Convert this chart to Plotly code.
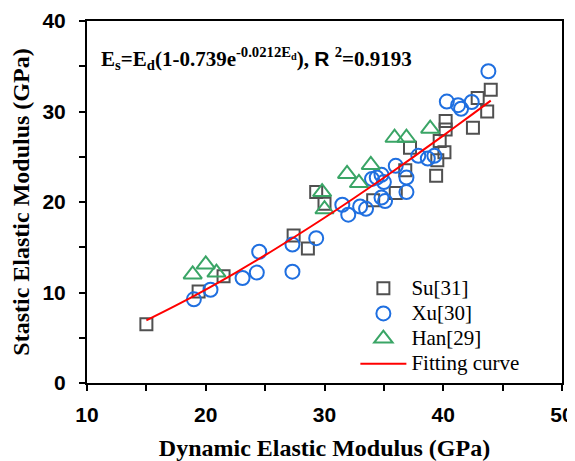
import plotly.graph_objects as go

# Su[31]
su_x = [15.0, 19.4, 21.5, 27.4, 28.6, 29.3, 30.0, 34.1, 36.0, 36.8, 37.2, 39.4, 39.5, 39.7, 40.1, 40.2, 40.2, 42.5, 42.9, 43.7, 44.0]
su_y = [6.5, 10.1, 11.8, 16.3, 14.85, 21.1, 19.8, 20.2, 21.0, 23.5, 26.0, 22.9, 24.6, 26.75, 25.5, 28.0, 28.95, 28.2, 31.5, 30.0, 32.4]

# Xu[30]
xu_x = [19.0, 20.4, 23.1, 24.3, 24.5, 27.3, 27.3, 29.3, 31.5, 32.0, 33.0, 33.5, 34.0, 34.4, 34.8, 35.0, 34.8, 35.1, 36.0, 36.9, 36.9, 37.9, 38.7, 39.25, 40.3, 41.25, 41.5, 42.4, 43.8]
xu_y = [9.25, 10.3, 11.6, 12.2, 14.5, 12.3, 15.3, 16.0, 19.7, 18.6, 19.5, 19.25, 22.55, 22.7, 23.0, 22.2, 20.5, 20.1, 24.0, 22.7, 21.1, 25.1, 24.8, 25.1, 31.1, 30.7, 30.3, 31.05, 34.45]

# Han[29]
han_x = [18.9, 20.0, 20.9, 29.8, 30.0, 31.9, 32.9, 33.9, 35.9, 36.9, 38.9]
han_y = [12.0, 13.1, 12.2, 21.1, 19.2, 23.1, 22.1, 24.1, 27.1, 27.1, 28.1]

# Fitting curve
fit_x = [15.0, 17.5, 20.0, 22.5, 25.0, 27.5, 30.0, 32.5, 35.0, 37.5, 40.0, 42.5, 44.0]
fit_y = [6.93, 8.58, 10.33, 12.18, 14.12, 16.16, 18.26, 20.44, 22.68, 24.99, 27.34, 29.74, 31.2]

x_ticks = [10, 20, 30, 40, 50]
y_ticks = [0, 10, 20, 30, 40]
series_names = ["Su[31]", "Xu[30]", "Han[29]", "Fitting curve"]


def lname(s):
    return "<span style='font-size:21px'>%s</span>" % s


fig = go.Figure()
fig.add_trace(go.Scatter(x=su_x, y=su_y, mode="markers", name=lname(series_names[0]),
                         marker=dict(symbol="square-open", size=12, color="#505050",
                                     line=dict(width=2, color="#505050"))))
fig.add_trace(go.Scatter(x=xu_x, y=xu_y, mode="markers", name=lname(series_names[1]),
                         marker=dict(symbol="circle-open", size=14, color="#1f6fe0",
                                     line=dict(width=2, color="#1f6fe0"))))
fig.add_trace(go.Scatter(x=han_x, y=han_y, mode="markers", name=lname(series_names[2]),
                         marker=dict(symbol="triangle-up-open", size=16, color="#3aa566",
                                     line=dict(width=2, color="#3aa566"))))
fig.add_trace(go.Scatter(x=fit_x, y=fit_y, mode="lines", name=lname(series_names[3]),
                         line=dict(color="#ff0000", width=2, shape="spline")))

axis_common = dict(showline=True, linewidth=2, linecolor="black", mirror=True,
                   ticks="outside", ticklen=6, tickwidth=2, tickcolor="black",
                   showgrid=False, zeroline=False, automargin=False,
                   ticklabeloverflow="allow",
                   tickfont=dict(family="Liberation Sans", size=21, color="black", weight="bold"),
                   minor=dict(ticks="outside", dtick=5, ticklen=6, tickwidth=2, tickcolor="black"))

fig.update_xaxes(range=[10, 50], tickmode="array", tickvals=x_ticks,
                 ticktext=["<b>%d</b>" % v for v in x_ticks], ticklabelstandoff=6,
                 title=dict(text="<b>Dynamic Elastic Modulus (GPa)</b>", standoff=14,
                            font=dict(family="Liberation Serif", size=24, color="black")),
                 **axis_common)
fig.update_yaxes(range=[0, 40], tickmode="array", tickvals=y_ticks,
                 ticktext=["<b>%d</b>" % v for v in y_ticks], ticklabelstandoff=9,
                 title=dict(text="<b>Stastic Elastic Modulus (GPa)</b>", standoff=8,
                            font=dict(family="Liberation Serif", size=24, color="black")),
                 **axis_common)

fig.add_annotation(xref="paper", yref="paper", x=0.026, y=0.896, xanchor="left", yanchor="middle",
                   showarrow=False,
                   text="<b>E<sub>s</sub>=E<sub>d</sub>(1-0.739e<sup>-0.0212E<sub>d</sub></sup>), "
                        "<span style='font-family:Liberation Sans'>R</span> <sup>2</sup>=0.9193</b>",
                   font=dict(family="Liberation Serif", size=21, color="black"))

# page body adds an 8px offset, so the figure is 8px smaller than the window
fig.update_layout(width=567, height=453,
                  margin=dict(l=79, r=13, t=13, b=78),
                  paper_bgcolor="white", plot_bgcolor="white",
                  showlegend=True,
                  legend=dict(x=0.565, y=0.31, xanchor="left", yanchor="top",
                              bgcolor="rgba(0,0,0,0)", tracegroupgap=0, itemwidth=46,
                              font=dict(family="Liberation Serif", size=17, color="black")))

fig.write_html("out.html")
